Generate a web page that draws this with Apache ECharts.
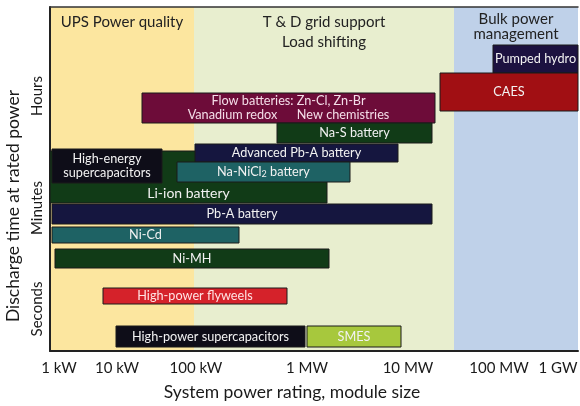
<!DOCTYPE html>
<html>
<head>
<meta charset="utf-8">
<script src="https://cdn.jsdelivr.net/npm/echarts@6/dist/echarts.min.js"></script>
<style>
  html, body { margin: 0; background: #fff; }
  #main { width: 580px; height: 406px; }
</style>
</head>
<body>
<div id="main"></div>
<script>
// schematic axes: x = position along power rating, y = position along discharge time
// (the original figure is not to scale, so ticks sit at uneven positions)
const powerTicks = ['1 kW', '10 kW', '100 kW', '1 MW', '10 MW', '100 MW', '1 GW'];
const powerTickPos = [9, 67, 146, 257, 358, 449, 508];
const timeTicks = ['Seconds', 'Minutes', 'Hours'];
const timeTickPos = [42, 143, 255];

const regionNames = ['UPS Power quality', 'T & D grid support\nLoad shifting', 'Bulk power\nmanagement'];
const regionFrom = [0, 144, 404];
const regionTo = [144, 404, 528];

const techNames = [
  'Pumped hydro', 'CAES', 'Flow batteries: Zn-Cl, Zn-Br\nVanadium redox      New chemistries',
  'Na-S battery', 'Li-ion battery', 'Advanced Pb-A battery', 'High-energy\nsupercapacitors',
  'Na-NiCl2 battery', 'Pb-A battery', 'Ni-Cd', 'Ni-MH', 'High-power flyweels',
  'High-power supercapacitors', 'SMES'
];
const powerFrom = [443, 390, 92, 227, 0, 145, 2, 127, 2, 2, 5, 53, 66, 257];
const powerTo   = [528, 528, 385, 382, 277, 348, 112, 300, 382, 189, 279, 237, 255, 351];
const timeFrom  = [278, 240, 228, 208, 148, 189, 168, 169, 127, 108, 83, 47, 4, 4];
const timeTo    = [306, 278, 258, 228, 200, 207, 202, 189, 147, 124, 102, 63, 25, 25];

const FONT = 'Lato, "Open Sans", sans-serif';
const regionFill = ['#fce69f', '#e8eecf', '#bfd1e9'];
const regionLineHeight = [20, 20, 14.5];

const NAVY = '#15163f', GREEN = '#113b17', TEAL = '#1e6264', BLACK = '#0e0d18';
const techFill = {
  'Pumped hydro': '#1c1240',
  'CAES': '#a10f13',
  'Na-S battery': GREEN,
  'Li-ion battery': GREEN,
  'Advanced Pb-A battery': NAVY,
  'High-energy\nsupercapacitors': BLACK,
  'Na-NiCl2 battery': TEAL,
  'Pb-A battery': NAVY,
  'Ni-Cd': TEAL,
  'Ni-MH': GREEN,
  'High-power flyweels': '#d5222a',
  'High-power supercapacitors': BLACK,
  'SMES': '#a7c83d'
};
techFill[techNames[2]] = '#6d0c39';
const techText = { 'High-power flyweels': '#ffe3e3' };
techText[techNames[2]] = '#f4dde8';
const techFontSize = { 'Li-ion battery': 14 };

const regionData = regionNames.map((n, i) => [regionFrom[i], regionTo[i], i]);
const techData = techNames.map((n, i) => [powerFrom[i], powerTo[i], timeFrom[i], timeTo[i], i]);

function labelText(name) {
  if (name.indexOf('Cl2') >= 0) {
    const parts = name.split('Cl2');
    return '{a|' + parts[0] + 'Cl}{s|2}{a|' + parts[1] + '}';
  }
  return name;
}

const myChart = echarts.init(document.getElementById('main'));

const option = {
  animation: false,
  grid: { left: 50, right: 2, top: 7, bottom: 55, outerBoundsMode: 'none' },
  xAxis: [
    {
      type: 'value', min: 0, max: 528,
      splitLine: { show: false },
      axisTick: { show: false },
      axisLine: { lineStyle: { color: '#222', width: 2 } },
      axisLabel: {
        customValues: powerTickPos,
        formatter: v => powerTicks[powerTickPos.indexOf(v)],
        color: '#1a1a1a', fontSize: 15, fontFamily: FONT, margin: 10
      },
      name: 'System power rating, module size',
      nameLocation: 'middle', nameGap: 32,
      nameTextStyle: { color: '#1a1a1a', fontSize: 17.5, fontFamily: FONT, padding: [0, 44, 0, 0] }
    },
    {
      type: 'value', position: 'top', min: 0, max: 528,
      splitLine: { show: false }, axisTick: { show: false }, axisLabel: { show: false },
      axisLine: { show: true, lineStyle: { color: '#333', width: 1.5 } }
    }
  ],
  yAxis: {
    type: 'value', min: 0, max: 344,
    splitLine: { show: false },
    axisTick: { show: false },
    axisLine: { show: true, lineStyle: { color: '#222', width: 2 } },
    axisLabel: {
      customValues: timeTickPos,
      formatter: v => timeTicks[timeTickPos.indexOf(v)],
      rotate: 90, color: '#1a1a1a', fontSize: 15, fontFamily: FONT, margin: 5
    },
    name: 'Discharge time at rated power',
    nameLocation: 'middle', nameGap: 22,
    nameTextStyle: { color: '#1a1a1a', fontSize: 17.5, fontFamily: FONT, padding: [0, 54, 0, 0] }
  },
  series: [
    {
      type: 'custom',
      z: -1,
      silent: true,
      data: regionData,
      renderItem: function (params, api) {
        const i = api.value(2);
        const lt = api.coord([api.value(0), 344]);
        const rb = api.coord([api.value(1), 0]);
        return {
          type: 'group',
          children: [
            { type: 'rect', shape: { x: lt[0], y: lt[1], width: rb[0] - lt[0], height: rb[1] - lt[1] },
              style: { fill: regionFill[i] } },
            { type: 'text', x: (lt[0] + rb[0]) / 2, y: lt[1] + 5,
              style: { text: regionNames[i], fill: '#222', font: '15px ' + FONT,
                       align: 'center', verticalAlign: 'top', lineHeight: regionLineHeight[i] } }
          ]
        };
      }
    },
    {
      type: 'custom',
      silent: true,
      data: techData,
      renderItem: function (params, api) {
        const i = api.value(4);
        const name = techNames[i];
        const lt = api.coord([api.value(0), api.value(3)]);
        const rb = api.coord([api.value(1), api.value(2)]);
        let ty = (lt[1] + rb[1]) / 2;
        // Li-ion: the label sits in the lower strip of its block
        if (name === 'Li-ion battery') ty = api.coord([0, api.value(2) + 10])[1];
        const color = techText[name] || '#f2f2f2';
        const fs = techFontSize[name] || 12.7;
        return {
          type: 'group',
          children: [
            { type: 'rect', shape: { x: lt[0], y: lt[1], width: rb[0] - lt[0], height: rb[1] - lt[1] },
              style: { fill: techFill[name], stroke: '#1b1b1b', lineWidth: 1 } },
            { type: 'text', x: (lt[0] + rb[0]) / 2, y: ty,
              style: {
                text: labelText(name), fill: color, font: fs + 'px ' + FONT,
                align: 'center', verticalAlign: 'middle', lineHeight: 13.5,
                rich: {
                  a: { fill: color, font: fs + 'px ' + FONT, lineHeight: 14 },
                  s: { fill: color, font: '9px ' + FONT, verticalAlign: 'bottom', lineHeight: 14, padding: [7, 0, 0, 0] }
                }
              } }
          ]
        };
      }
    }
  ]
};

myChart.setOption(option);
</script>
</body>
</html>
